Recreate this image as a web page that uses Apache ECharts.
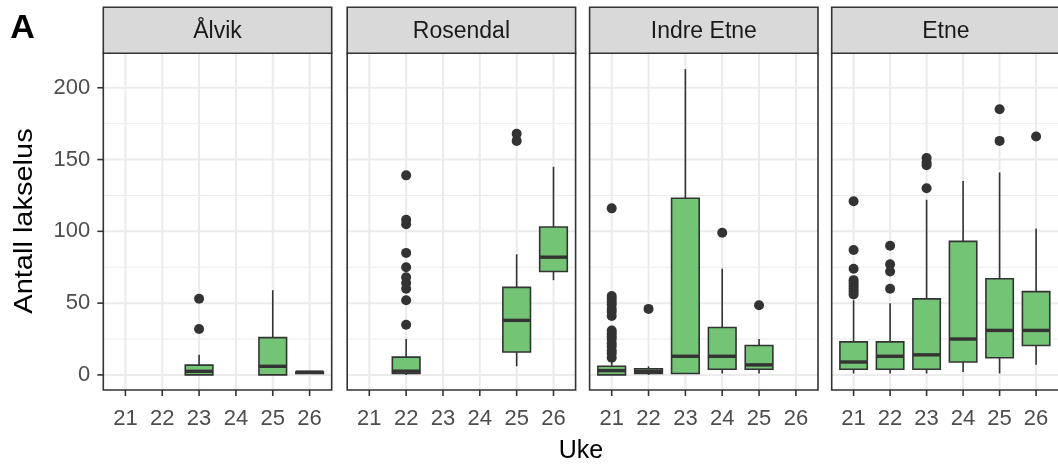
<!DOCTYPE html>
<html><head><meta charset="utf-8">
<script src="https://cdn.jsdelivr.net/npm/echarts@6/dist/echarts.min.js"></script>
<style>html,body{margin:0;padding:0;background:#fff}#c{width:1058px;height:467px}</style>
</head><body><div id="c"></div>
<script>
// ---------------- data ----------------
const facets = ['Ålvik', 'Rosendal', 'Indre Etne', 'Etne'];
const weeks = [21, 22, 23, 24, 25, 26];
const yTicks = [0, 50, 100, 150, 200];
const yMinor = [25, 75, 125, 175];
const yTitle = 'Antall lakselus';
const xTitle = 'Uke';
const panelTag = 'A';

// [week, lower whisker, Q1, median, Q3, upper whisker]
const alvikBoxes = [[23, 0, 0, 2.5, 6.8, 14], [25, 0, 0, 6, 26, 59], [26, 1, 1, 2, 2, 2.5]];
const rosendalBoxes = [[22, 0, 1, 2.6, 12.4, 25], [25, 6, 16, 38, 61, 84], [26, 66, 72, 82, 103, 145]];
const indreEtneBoxes = [[21, 0, 0, 3, 6, 9], [22, 0, 1, 2.5, 4.3, 6], [23, 1, 1, 13, 123, 213],
  [24, 1, 4, 13, 33, 74], [25, 1, 4, 7, 20.5, 25]];
const etneBoxes = [[21, 1, 4, 9, 23, 52], [22, 1, 4, 13, 23, 50], [23, 1, 4, 14, 53, 122],
  [24, 2, 9, 25, 93, 135], [25, 1, 12, 31, 67, 141], [26, 7, 20.5, 31, 58, 102]];

// [week, value]
const alvikOutliers = [[23, 53], [23, 32]];
const rosendalOutliers = [[22, 139], [22, 108], [22, 105], [22, 85], [22, 75], [22, 68], [22, 64],
  [22, 60], [22, 52], [22, 35], [25, 168], [25, 163]];
const indreEtneOutliers = [[21, 116], [21, 55], [21, 53], [21, 51], [21, 49], [21, 46], [21, 44],
  [21, 41], [21, 31], [21, 29], [21, 27], [21, 25], [21, 22], [21, 20], [21, 17], [21, 15], [21, 12],
  [22, 46], [24, 99], [25, 48.5]];
const etneOutliers = [[21, 121], [21, 87], [21, 74], [21, 66], [21, 64], [21, 62], [21, 60], [21, 58],
  [21, 56], [22, 90], [22, 77], [22, 72], [22, 60], [23, 151], [23, 148], [23, 146], [23, 130],
  [25, 185], [25, 163], [26, 166]];

const allBoxes = [alvikBoxes, rosendalBoxes, indreEtneBoxes, etneBoxes];
const allOutliers = [alvikOutliers, rosendalOutliers, indreEtneOutliers, etneOutliers];

// ---------------- layout / style ----------------
const XMIN = 20.4, XMAX = 26.6, YMIN = -10.5, YMAX = 224;
const panelLeft = [103.3, 347.2, 589.6, 831.7];
const panelW = 228.4, panelTop = 53.3, panelH = 336.7;
const stripTop = 7.3;
const TICK = 6;
const FONT = '"Liberation Sans", Arial, sans-serif';
const GREEN = '#74C476', DARK = '#333333';
const LW = 1.6;

const chart = echarts.init(document.getElementById('c'), null, {renderer: 'canvas'});

const grids = [], xAxes = [], yAxes = [], series = [], graphics = [];

facets.forEach((name, i) => {
  grids.push({left: panelLeft[i], top: panelTop, width: panelW, height: panelH, show: false});
  xAxes.push({
    gridIndex: i, type: 'value', min: XMIN, max: XMAX,
    axisLine: {show: false}, splitLine: {show: false}, axisTick: {show: false},
    axisLabel: {customValues: weeks, color: '#4D4D4D', fontSize: 22, margin: 18, fontFamily: FONT}
  });
  if (i === 0) {
    yAxes.push({
      gridIndex: i, type: 'value', min: YMIN, max: YMAX,
      axisLine: {show: false}, splitLine: {show: false}, axisTick: {show: false},
      axisLabel: {customValues: yTicks, color: '#4D4D4D', fontSize: 22, margin: 13, fontFamily: FONT}
    });
  } else {
    yAxes.push({gridIndex: i, type: 'value', min: YMIN, max: YMAX, show: false});
  }

  // grid lines (kind 0: major horizontal, 1: minor horizontal, 2: vertical)
  const gl = [];
  yTicks.forEach(v => gl.push([0, v]));
  yMinor.forEach(v => gl.push([1, v]));
  weeks.forEach(w => gl.push([2, w]));
  series.push({
    type: 'custom', xAxisIndex: i, yAxisIndex: i, z: 1, silent: true, clip: false,
    data: gl,
    renderItem: (params, api) => {
      const kind = api.value(0), v = api.value(1);
      let a, b;
      if (kind === 2) { a = api.coord([v, YMIN]); b = api.coord([v, YMAX]); }
      else { a = api.coord([XMIN, v]); b = api.coord([XMAX, v]); }
      return {type: 'line', shape: {x1: a[0], y1: a[1], x2: b[0], y2: b[1]},
        style: {stroke: '#EBEBEB', lineWidth: kind === 1 ? 1 : 2}};
    }
  });

  // axis ticks (kind 0: x tick at week, 1: y tick at value)
  const tk = weeks.map(w => [0, w]);
  if (i === 0) yTicks.forEach(v => tk.push([1, v]));
  series.push({
    type: 'custom', xAxisIndex: i, yAxisIndex: i, z: 5, silent: true, clip: false,
    data: tk,
    renderItem: (params, api) => {
      const kind = api.value(0), v = api.value(1);
      let a, shape;
      if (kind === 0) { a = api.coord([v, YMIN]); shape = {x1: a[0], y1: a[1], x2: a[0], y2: a[1] + TICK}; }
      else { a = api.coord([XMIN, v]); shape = {x1: a[0], y1: a[1], x2: a[0] - TICK, y2: a[1]}; }
      return {type: 'line', shape: shape, style: {stroke: DARK, lineWidth: LW}};
    }
  });

  // boxes
  series.push({
    type: 'custom', xAxisIndex: i, yAxisIndex: i, z: 3, silent: true,
    data: allBoxes[i],
    renderItem: (params, api) => {
      const x = api.value(0);
      const lo = api.coord([x, api.value(1)]);
      const q1 = api.coord([x, api.value(2)]);
      const md = api.coord([x, api.value(3)]);
      const q3 = api.coord([x, api.value(4)]);
      const hi = api.coord([x, api.value(5)]);
      const hw = api.size([0.75, 0])[0] / 2;
      const cx = lo[0];
      return {type: 'group', children: [
        {type: 'line', shape: {x1: cx, y1: lo[1], x2: cx, y2: q1[1]}, style: {stroke: DARK, lineWidth: LW}},
        {type: 'line', shape: {x1: cx, y1: q3[1], x2: cx, y2: hi[1]}, style: {stroke: DARK, lineWidth: LW}},
        {type: 'rect', shape: {x: cx - hw, y: q3[1], width: 2 * hw, height: q1[1] - q3[1]},
          style: {fill: GREEN, stroke: DARK, lineWidth: LW}},
        {type: 'line', shape: {x1: cx - hw, y1: md[1], x2: cx + hw, y2: md[1]}, style: {stroke: DARK, lineWidth: 3.4}}
      ]};
    }
  });

  // outliers
  series.push({
    type: 'scatter', xAxisIndex: i, yAxisIndex: i, z: 4, silent: true,
    symbol: 'circle', symbolSize: 10, itemStyle: {color: DARK, opacity: 1},
    data: allOutliers[i]
  });

  // panel border + strip
  graphics.push({type: 'rect', z: 100, silent: true,
    shape: {x: panelLeft[i], y: panelTop, width: panelW, height: panelH},
    style: {fill: 'none', stroke: DARK, lineWidth: LW}});
  graphics.push({type: 'rect', z: 100, silent: true,
    shape: {x: panelLeft[i], y: stripTop, width: panelW, height: panelTop - stripTop},
    style: {fill: '#D9D9D9', stroke: DARK, lineWidth: LW}});
  graphics.push({type: 'text', z: 101, silent: true,
    x: panelLeft[i] + panelW / 2, y: (stripTop + panelTop) / 2 + 1,
    style: {text: name, font: '23px ' + FONT, fill: '#1A1A1A',
      align: 'center', verticalAlign: 'middle', textAlign: 'center', textVerticalAlign: 'middle'}});
});

// titles
graphics.push({type: 'text', z: 101, silent: true, x: 25, y: 221, rotation: Math.PI / 2, scaleX: 1.16,
  style: {text: yTitle, font: '25px ' + FONT, fill: '#000',
    align: 'center', verticalAlign: 'middle', textAlign: 'center', textVerticalAlign: 'middle'}});
graphics.push({type: 'text', z: 101, silent: true, x: 581, y: 451,
  style: {text: xTitle, font: '25px ' + FONT, fill: '#000',
    align: 'center', verticalAlign: 'middle', textAlign: 'center', textVerticalAlign: 'middle'}});
graphics.push({type: 'text', z: 101, silent: true, x: 22.5, y: 28.5,
  style: {text: panelTag, font: 'bold 34px ' + FONT, fill: '#000',
    align: 'center', verticalAlign: 'middle', textAlign: 'center', textVerticalAlign: 'middle'}});

chart.setOption({
  animation: false,
  backgroundColor: '#fff',
  grid: grids, xAxis: xAxes, yAxis: yAxes, series: series,
  graphic: {elements: graphics}
});
</script></body></html>
